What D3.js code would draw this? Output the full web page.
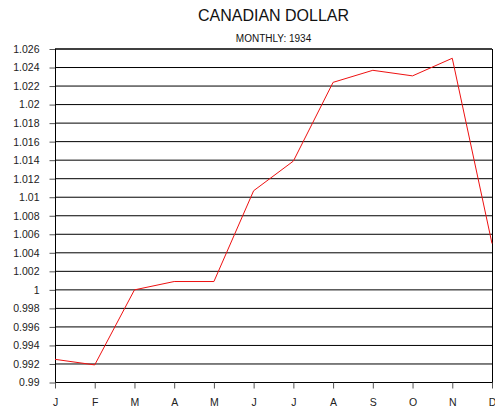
<!DOCTYPE html>
<html><head><meta charset="utf-8">
<script src="https://cdn.jsdelivr.net/npm/d3@7"></script>
<style>body{margin:0;background:#fff}svg{display:block;font-family:"Liberation Sans",Arial,sans-serif}</style>
</head><body>
<svg id="c" width="495" height="408"></svg>
<script>
const months = ["J","F","M","A","M","J","J","A","S","O","N","D"];
const values = [0.9925,0.9919,1.0000,1.0009,1.0009,1.0107,1.0139,1.0224,1.0237,1.0231,1.0250,1.0050];
const yTicks = [0.99,0.992,0.994,0.996,0.998,1,1.002,1.004,1.006,1.008,1.01,1.012,1.014,1.016,1.018,1.02,1.022,1.024,1.026];
const title = "CANADIAN DOLLAR";
const subtitle = "MONTHLY: 1934";

const svg = d3.select("#c");
const L = 55, R = 492, T = 49, B = 382.5;
const x = d3.scaleLinear().domain([0, months.length-1]).range([L, R]);
const y = d3.scaleLinear().domain([0.99, 1.026]).range([B, T]);

svg.append("text").attr("x", 273.5).attr("y", 21).attr("text-anchor","middle")
  .attr("font-size", 16).attr("fill","#111").text(title);
svg.append("text").attr("x", 273.5).attr("y", 42).attr("text-anchor","middle")
  .attr("font-size", 10).attr("fill","#111").text(subtitle);

// gridlines (unrounded positions, as in the original rendering)
yTicks.forEach((t,i) => {
  if (i === 0) return;
  const top = i === yTicks.length-1;
  svg.append("line").attr("x1", L).attr("x2", R)
    .attr("y1", y(t)).attr("y2", y(t))
    .attr("stroke", "#000")
    .attr("stroke-width", top ? 1.5 : 1);
});

// y axis
const yAxis = d3.axisLeft(y).tickValues(yTicks).tickSize(6).tickPadding(10)
  .tickFormat(d => d3.format("")(+d.toFixed(3)));
const gy = svg.append("g").attr("transform", `translate(${L+0.5},0)`).call(yAxis);
gy.select(".domain").remove();
gy.selectAll(".tick line").attr("stroke","#555");
gy.selectAll("text").attr("font-size", 10.5).attr("fill","#222").attr("font-family",'"Liberation Sans",Arial,sans-serif');
svg.append("line").attr("x1", L+0.5).attr("x2", L+0.5).attr("y1", T).attr("y2", B).attr("stroke","#000");
svg.append("line").attr("x1", R+0.5).attr("x2", R+0.5).attr("y1", T).attr("y2", B).attr("stroke","#000");

// x axis
const xAxis = d3.axisBottom(x).tickValues(d3.range(months.length)).tickSize(6).tickPadding(10)
  .tickFormat(i => months[i]);
const gx = svg.append("g").attr("transform", `translate(0,${B})`).call(xAxis);
gx.select(".domain").attr("d", `M${L},0H${R+1}`).attr("stroke","#000");
gx.selectAll(".tick line").attr("stroke","#555");
gx.selectAll("text").attr("font-size", 10.5).attr("fill","#222").attr("font-family",'"Liberation Sans",Arial,sans-serif');

// line
svg.append("path").datum(values)
  .attr("d", d3.line().x((d,i) => x(i)).y(d => y(d)))
  .attr("fill","none").attr("stroke","#ee1111").attr("stroke-width",1);
</script>
</body></html>
